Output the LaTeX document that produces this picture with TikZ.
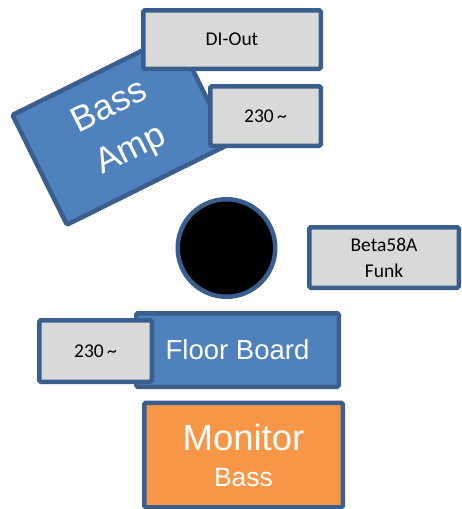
\documentclass[tikz,border=0pt]{standalone}
\usepackage{fontspec}
\setmainfont{Carlito}
\newfontfamily\arialf{Liberation Sans}
\definecolor{edge}{HTML}{3A5F8F}
\definecolor{bluefill}{HTML}{4F81BD}
\definecolor{grayfill}{HTML}{D9D9D9}
\definecolor{orangefill}{HTML}{F79646}
\begin{document}
\begin{tikzpicture}[x=1pt,y=-1pt,
  box/.style={draw=edge, line width=4.5pt, rounded corners=1.5pt, inner sep=0pt, outer sep=0pt, align=center},
  graybox/.style={box, fill=grayfill, text=black, font=\fontsize{19.5}{23}\selectfont},
  bluebox/.style={box, fill=bluefill, text=white},
  orangebox/.style={box, fill=orangefill, text=white}]
\useasboundingbox (0,0) rectangle (462,509);
% Bass amp and its connectors
\node[bluebox, minimum width=181.5pt, minimum height=122.5pt, rotate=26.4,
      font=\arialf\fontsize{35.5}{48}\selectfont] (amp) at (121,129.5) {Bass\\Amp};
\node[graybox, minimum width=177.5pt, minimum height=58.5pt] (di) at (232,39.5) {DI-Out};
\node[graybox, minimum width=110.5pt, minimum height=59.5pt] (pwrtop) at (265.5,116) {230\,\textasciitilde};
% microphone stand / circle
\node[draw=edge, line width=4.5pt, fill=black, circle, minimum size=97.5pt, inner sep=0pt] (mic) at (226.5,248) {};
\node[graybox, minimum width=149.5pt, minimum height=60.5pt, font=\fontsize{19.5}{26}\selectfont] (beta) at (384,257.5) {Beta58A\\Funk};
% floor board
\node[bluebox, minimum width=202.5pt, minimum height=73.5pt, font=\arialf\fontsize{27.5}{32}\selectfont] (floor) at (237.5,350) {Floor Board};
\node[graybox, minimum width=112.5pt, minimum height=61.5pt] (pwrleft) at (95.5,351) {230\,\textasciitilde};
% monitor
\node[orangebox, minimum width=198.5pt, minimum height=104.5pt, font=\arialf\fontsize{26.5}{36}\selectfont] (mon) at (243.5,455)
  {{\fontsize{36.5}{40}\selectfont Monitor}\\Bass};
\end{tikzpicture}
\end{document}
